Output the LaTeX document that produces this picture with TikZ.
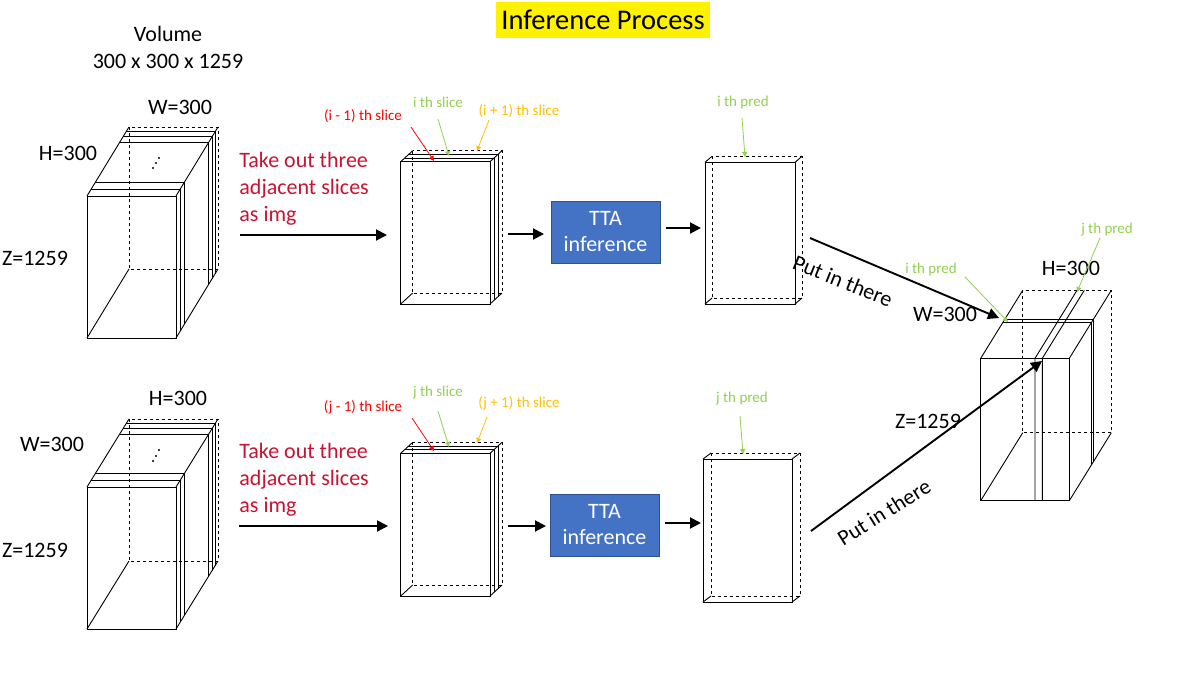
\documentclass[tikz,border=0pt]{standalone}
\usepackage{fontspec}
\setmainfont{Carlito}
\usetikzlibrary{arrows.meta}
\definecolor{takered}{RGB}{200,20,50}
\definecolor{lred}{RGB}{255,0,0}
\definecolor{lgreen}{RGB}{146,208,80}
\definecolor{lorange}{RGB}{255,192,0}
\definecolor{ttablue}{RGB}{68,114,196}
\definecolor{ttaedge}{RGB}{47,82,143}
\newcommand{\slabbox}[7]{%
  \draw[dashed] (#1+#5,#2-#6) rectangle (#3+#5,#4-#6);
  \draw (#1,#2) rectangle (#3,#4);
  \draw (#1,#2) -- ++(#5,-#6) (#3,#2) -- ++(#5,-#6) (#1,#4) -- ++(#5,-#6) (#3,#4) -- ++(#5,-#6);
  \foreach \t in {#7} {\draw (#1+\t*#5,#2-\t*#6) -- (#3+\t*#5,#2-\t*#6) -- (#3+\t*#5,#4-\t*#6);}
}
\tikzset{
  big/.style={font=\fontsize{22}{27}\selectfont},
  small/.style={font=\fontsize{15}{18}\selectfont},
  bigarrow/.style={line width=1.9pt,-{Triangle[length=11pt,width=11pt]}},
  labarrow/.style={line width=0.8pt,-{Triangle[length=5pt,width=5pt]}},
  ttabox/.style={draw=ttaedge,line width=0.6pt,fill=ttablue,text=white,align=center,minimum width=109pt,minimum height=62pt,inner sep=0pt,font=\fontsize{22}{26}\selectfont},
  vdot/.style={fill=black,draw=none,circle,inner sep=0pt,minimum size=2.2pt}
}
\begin{document}
\begin{tikzpicture}[x=1pt,y=-1pt,line width=0.9pt]
\useasboundingbox[fill=white] (0,0) rectangle (1198,672);

% Title
\node[fill=yellow,minimum width=214pt,minimum height=36pt,inner sep=0pt,font=\fontsize{28.5}{30}\selectfont] (title) at (603,20) {Inference Process};

% Volume labels
\node[big,align=center] (vol) at (168,47) {Volume\\300 x 300 x 1259};

% ---------------- Top row ----------------
\slabbox{87}{196}{176}{338}{42}{69}{0.1,0.2,0.78,0.86,0.93}
\node[vdot] (d1) at (153,168) {};
\node[vdot] (d2) at (156,163) {};
\node[vdot] (d3) at (159,158) {};
\node[big] (tw) at (180,107) {W=300};
\node[big] (th) at (68,153) {H=300};
\node[big] (tz) at (35,258) {Z=1259};

\node[big,text=takered,align=left,anchor=west,inner sep=0pt] (take1) at (239,189) {Take out three\\adjacent slices\\as img};
\coordinate (a1s) at (240,235); \coordinate (a1e) at (387,235);
\draw[bigarrow] (a1s) -- (a1e);

\slabbox{400.7}{161.7}{490}{304}{12}{11}{0.333,0.667}
\node[small,text=lred] (im1) at (363,116) {(i - 1) th slice};
\node[small,text=lgreen] (ii) at (438,102) {i th slice};
\node[small,text=lorange] (ip1) at (519,111) {(i + 1) th slice};
\coordinate (r1s) at (411,127); \coordinate (r1e) at (434,161);
\coordinate (g1s) at (438,119); \coordinate (g1e) at (449,156);
\coordinate (o1s) at (489,120); \coordinate (o1e) at (477,151);
\draw[labarrow,lred] (r1s) -- (r1e);
\draw[labarrow,lgreen] (g1s) -- (g1e);
\draw[labarrow,lorange] (o1s) -- (o1e);

\coordinate (b1s) at (508,234); \coordinate (b1e) at (544,234);
\draw[bigarrow] (b1s) -- (b1e);
\node[ttabox] (tta1) at (605.5,232) {TTA\\inference};
\coordinate (c1s) at (666,228); \coordinate (c1e) at (701,228);
\draw[bigarrow] (c1s) -- (c1e);

\slabbox{705}{162.3}{795}{304}{7}{6}{0}
\node[small,text=lgreen] (ipred) at (743,102) {i th pred};
\coordinate (p1s) at (742,118); \coordinate (p1e) at (745,157);
\draw[labarrow,lgreen] (p1s) -- (p1e);

\coordinate (e1s) at (810,238); \coordinate (e1e) at (999,318);
\draw[bigarrow] (e1s) -- (e1e);
\node[big,rotate=-22] (put1) at (843,281) {Put in there};

% ---------------- Bottom row ----------------
\slabbox{87}{487}{176}{629}{42}{68}{0.1,0.2,0.78,0.86,0.93}
\node[vdot] (d4) at (153,461) {};
\node[vdot] (d5) at (156,456) {};
\node[vdot] (d6) at (159,450) {};
\node[big] (bh) at (178,398) {H=300};
\node[big] (bw) at (52,444) {W=300};
\node[big] (bz) at (35,550) {Z=1259};

\node[big,text=takered,align=left,anchor=west,inner sep=0pt] (take2) at (239,480) {Take out three\\adjacent slices\\as img};
\coordinate (a2s) at (239,526); \coordinate (a2e) at (388,526);
\draw[bigarrow] (a2s) -- (a2e);

\slabbox{400.7}{453.3}{490}{596}{12}{11}{0.333,0.667}
\node[small,text=lred] (jm1) at (363,407) {(j - 1) th slice};
\node[small,text=lgreen] (jj) at (438,393) {j th slice};
\node[small,text=lorange] (jp1) at (519,403) {(j + 1) th slice};
\coordinate (r2s) at (412,418); \coordinate (r2e) at (434,451);
\coordinate (g2s) at (438,411); \coordinate (g2e) at (449,447);
\coordinate (o2s) at (487,417); \coordinate (o2e) at (477,443);
\draw[labarrow,lred] (r2s) -- (r2e);
\draw[labarrow,lgreen] (g2s) -- (g2e);
\draw[labarrow,lorange] (o2s) -- (o2e);

\coordinate (b2s) at (508,526); \coordinate (b2e) at (546,526);
\draw[bigarrow] (b2s) -- (b2e);
\node[ttabox] (tta2) at (604.5,525) {TTA\\inference};
\coordinate (c2s) at (665,523); \coordinate (c2e) at (701,523);
\draw[bigarrow] (c2s) -- (c2e);

\slabbox{703}{459}{792}{602}{8}{6}{0}
\node[small,text=lgreen] (jpred) at (742,399) {j th pred};
\coordinate (p2s) at (740,416); \coordinate (p2e) at (743,454);
\draw[labarrow,lgreen] (p2s) -- (p2e);

\coordinate (e2s) at (811,531); \coordinate (e2e) at (1042,361);
\draw[bigarrow] (e2s) -- (e2e);
\node[big,rotate=32] (put2) at (884,512) {Put in there};

% ---------------- Result volume ----------------
\slabbox{980.7}{358.3}{1069.3}{500.7}{42}{68}{0.52,0.57}
\draw (1035,500.7) -- (1035,358.3) -- ++(42,-68);
\draw (1042.3,500.7) -- (1042.3,358.3) -- ++(42,-68);
\node[big] (rh) at (1071,268) {H=300};
\node[big] (rw) at (945,314) {W=300};
\node[big] (rz) at (928,421) {Z=1259};
\node[small,text=lgreen] (ripred) at (931,269) {i th pred};
\node[small,text=lgreen] (rjpred) at (1107,230) {j th pred};
\coordinate (q1s) at (965,277); \coordinate (q1e) at (1008,322);
\coordinate (q2s) at (1100,238); \coordinate (q2e) at (1077,292);
\draw[labarrow,lgreen] (q1s) -- (q1e);
\draw[labarrow,lgreen] (q2s) -- (q2e);
\end{tikzpicture}
\end{document}
